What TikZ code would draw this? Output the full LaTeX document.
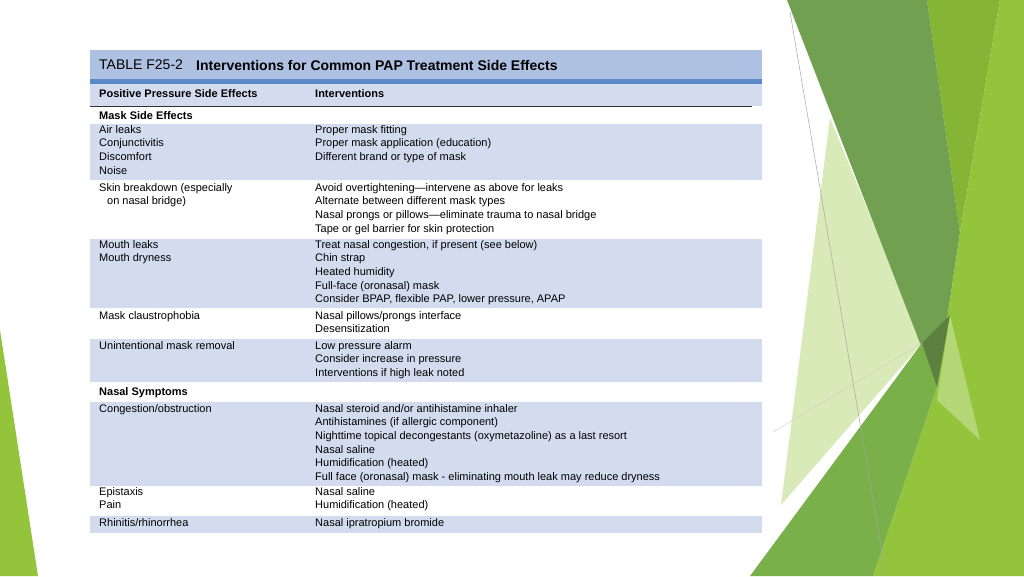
\documentclass[tikz,border=0pt]{standalone}
\usepackage{fontspec}
\setmainfont{Liberation Sans}
\begin{document}
\begin{tikzpicture}[x=1pt,y=-1pt,
  txt/.style={anchor=north west,inner sep=0pt,align=left,font=\fontsize{11}{13.7}\selectfont},
  bld/.style={txt,font=\fontsize{11}{13.7}\selectfont\bfseries},
  band/.style={fill=rowblue}]
\definecolor{rowblue}{HTML}{D3DCEF}
\definecolor{titleblue}{HTML}{AFC1E2}
\definecolor{barblue}{HTML}{5B88C6}
\useasboundingbox (0,0) rectangle (1024,576);
\fill[white] (0,0) rectangle (1024,576);
% green decoration
\fill[green!50!black!40!lime!60!white,opacity=0] (0,0) rectangle (1,1);
\definecolor{gdark}{HTML}{71A050}
\definecolor{golive}{HTML}{86B535}
\definecolor{glight}{HTML}{94C43C}
\definecolor{gmed}{HTML}{79B04A}
\definecolor{gpale}{HTML}{D8EAB8}
\fill[gpale] (830,118) -- (922,343) -- (781,505) -- cycle;
\fill[golive] (927,0) -- (1000,0) -- (960,233) -- cycle;
\fill[gdark] (787,0) -- (927,0) -- (960,233) -- (937,387) -- cycle;
\fill[glight] (1000,0) -- (1024,0) -- (1024,576) -- (873,576) -- (937,387) -- (960,233) -- cycle;
\fill[gmed] (750,576) -- (922,343) -- (937,387) -- (873,576) -- cycle;
\fill[gdark!80!black] (922,343) -- (950,315) -- (937,387) -- cycle;
\fill[glight!70!white] (950,315) -- (980,440) -- (937,400) -- cycle;
\fill[glight] (0,330) -- (38,576) -- (0,576) -- cycle;
\draw[gray!70,line width=0.5pt] (790,12) -- (886,576);
\draw[gray!40,line width=0.4pt] (773,432) -- (922,343);
% table backgrounds
\fill[titleblue] (90,50) rectangle (762,79);
\fill[barblue] (90,79) rectangle (762,84);
\fill[rowblue] (90,84) rectangle (762,106);
\draw[black!80,line width=1pt] (90,106) -- (752,106);
\fill[band] (90,124) rectangle (762,180);
\fill[band] (90,239) rectangle (762,308);
\fill[band] (90,339) rectangle (762,382);
\fill[band] (90,402) rectangle (762,486);
\fill[band] (90,516) rectangle (762,533);
% title
\node[anchor=west,inner sep=0pt,font=\fontsize{14}{16}\selectfont] (tl) at (99,65) {TABLE F25-2};
\node[anchor=west,inner sep=0pt,font=\fontsize{14}{16}\selectfont\bfseries] (tt) at (196,65) {Interventions for Common PAP Treatment Side Effects};
\node[bld] (h1) at (99,89) {Positive Pressure Side Effects};
\node[bld] (h2) at (315,89) {Interventions};
\node[bld] (s1) at (99,111) {Mask Side Effects};
\node[txt] (a1) at (99,125) {Air leaks\\Conjunctivitis\\Discomfort\\Noise};
\node[txt] (b1) at (315,125) {Proper mask fitting\\Proper mask application (education)\\Different brand or type of mask};
\node[txt] (a2) at (99,183) {Skin breakdown (especially\\\hspace*{8pt}on nasal bridge)};
\node[txt] (b2) at (315,183) {Avoid overtightening---intervene as above for leaks\\Alternate between different mask types\\Nasal prongs or pillows---eliminate trauma to nasal bridge\\Tape or gel barrier for skin protection};
\node[txt] (a3) at (99,240) {Mouth leaks\\Mouth dryness};
\node[txt] (b3) at (315,240) {Treat nasal congestion, if present (see below)\\Chin strap\\Heated humidity\\Full-face (oronasal) mask\\Consider BPAP, flexible PAP, lower pressure, APAP};
\node[txt] (a4) at (99,311) {Mask claustrophobia};
\node[txt] (b4) at (315,311) {Nasal pillows/prongs interface\\Desensitization};
\node[txt] (a5) at (99,341) {Unintentional mask removal};
\node[txt] (b5) at (315,341) {Low pressure alarm\\Consider increase in pressure\\Interventions if high leak noted};
\node[bld] (s2) at (99,387) {Nasal Symptoms};
\node[txt] (a6) at (99,404) {Congestion/obstruction};
\node[txt] (b6) at (315,404) {Nasal steroid and/or antihistamine inhaler\\Antihistamines (if allergic component)\\Nighttime topical decongestants (oxymetazoline) as a last resort\\Nasal saline\\Humidification (heated)\\Full face (oronasal) mask - eliminating mouth leak may reduce dryness};
\node[txt] (a7) at (99,487) {Epistaxis\\Pain};
\node[txt] (b7) at (315,487) {Nasal saline\\Humidification (heated)};
\node[txt] (a8) at (99,518) {Rhinitis/rhinorrhea};
\node[txt] (b8) at (315,518) {Nasal ipratropium bromide};
\end{tikzpicture}
\end{document}
